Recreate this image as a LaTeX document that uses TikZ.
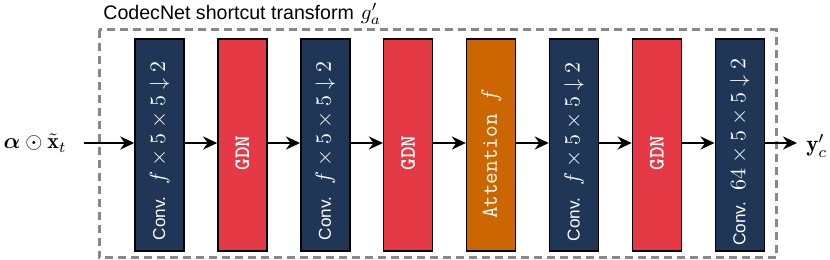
\RequirePackage{fix-cm}
\documentclass[tikz,border=0pt]{standalone}
\usepackage{amsmath,bm}
\usepackage{fontspec}
\setsansfont{Liberation Sans}
\usetikzlibrary{arrows.meta}
\definecolor{navy}{HTML}{1F3657}
\definecolor{gdnred}{HTML}{E63946}
\definecolor{attor}{HTML}{CC6600}
\definecolor{dashgray}{HTML}{888888}
\newcommand\convlabel[1]{{\sffamily\fontsize{8.6}{10}\selectfont Conv.}\hspace{6pt}{\fontsize{11}{13}\selectfont$#1\times5\times5\downarrow2$}}
\newcommand\gdnlabel{{\ttfamily\bfseries\fontsize{11}{13}\selectfont GDN}}
\begin{document}
\begin{tikzpicture}[x=0.5pt,y=-0.5pt,
  blk/.style={draw=black,line width=0.75pt,minimum width=24.5pt,minimum height=106pt,inner sep=0pt},
  convbox/.style={blk,fill=navy},
  gdnbox/.style={blk,fill=gdnred},
  attbox/.style={blk,fill=attor},
  lbl/.style={rotate=90,text=white,inner sep=0pt},
  flow/.style={-{Stealth[length=7pt,width=6.5pt]},line width=1.4pt},
]
\useasboundingbox (0,0) rectangle (830,260);
% frame
\draw[dashgray,line width=1.5pt,dash pattern=on 4pt off 2.5pt] (99,30) rectangle (776,258);
\node[anchor=base west,inner sep=0pt] (title) at (103,19.5)
  {{\sffamily\fontsize{9.8}{11}\selectfont CodecNet shortcut transform}\hspace{3.5pt}{\fontsize{10.5}{12}\selectfont$g'_a$}};
% blocks
\node[convbox] (c1) at (159.5,145) {};
\node[gdnbox]  (g1) at (242.4,145) {};
\node[convbox] (c2) at (325.3,145) {};
\node[gdnbox]  (g2) at (408.2,145) {};
\node[attbox]  (at) at (491.1,145) {};
\node[convbox] (c3) at (574.0,145) {};
\node[gdnbox]  (g3) at (656.9,145) {};
\node[convbox] (c4) at (739.8,145) {};
% labels
\node[lbl] (c1t) at (159.5,151) {\convlabel{f}};
\node[lbl] (g1t) at (242.4,153) {\gdnlabel};
\node[lbl] (c2t) at (325.3,151) {\convlabel{f}};
\node[lbl] (g2t) at (408.2,153) {\gdnlabel};
\node[lbl] (att) at (491.1,154) {\ttfamily\fontsize{11.3}{13}\selectfont Attention $f$};
\node[lbl] (c3t) at (574.0,152) {\convlabel{f}};
\node[lbl] (g3t) at (656.9,153) {\gdnlabel};
\node[lbl] (c4t) at (739.8,152) {\convlabel{64}};
% io
\node[anchor=base east,inner sep=0pt] (in) at (67,149)
  {\fontsize{11}{13}\selectfont$\bm{\alpha}\odot\tilde{\mathbf{x}}_t$};
\node[anchor=base west,inner sep=0pt] (out) at (806,151.5)
  {\fontsize{11.5}{13}\selectfont$\mathbf{y}'_c$};
\coordinate (ay) at (0,143);
\coordinate (inend) at (84,143);
\coordinate (outend) at (797,143);
% arrows
\draw[flow] (inend) -- (c1.west |- ay);
\draw[flow] (c1.east |- ay) -- (g1.west |- ay);
\draw[flow] (g1.east |- ay) -- (c2.west |- ay);
\draw[flow] (c2.east |- ay) -- (g2.west |- ay);
\draw[flow] (g2.east |- ay) -- (at.west |- ay);
\draw[flow] (at.east |- ay) -- (c3.west |- ay);
\draw[flow] (c3.east |- ay) -- (g3.west |- ay);
\draw[flow] (g3.east |- ay) -- (c4.west |- ay);
\draw[flow] (c4.east |- ay) -- (outend);
\end{tikzpicture}
\end{document}
